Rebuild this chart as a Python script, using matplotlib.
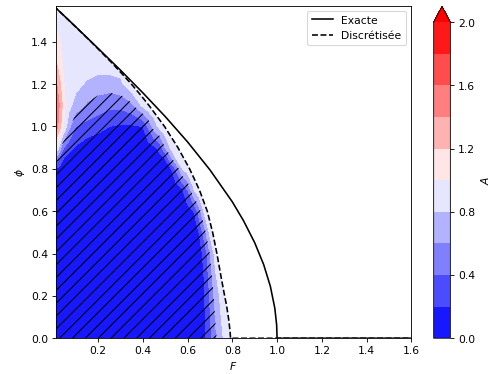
import numpy as np
import matplotlib
matplotlib.use('Agg')
import matplotlib.pyplot as plt
from matplotlib.patches import Polygon

# exact curve
F_exact = [0.0, 0.1, 0.2, 0.3, 0.4, 0.5, 0.6, 0.7, 0.8, 0.85, 0.9, 0.94, 0.97, 0.99, 0.998, 1.0, 1.6]
phi_exact = [1.571, 1.471, 1.369, 1.266, 1.159, 1.047, 0.927, 0.795, 0.644, 0.555, 0.451, 0.348, 0.245, 0.141, 0.063, 0.0, 0.0]
# discretised curve
F_disc = [0.0, 0.0706, 0.1685, 0.262, 0.306, 0.349, 0.389, 0.427, 0.497, 0.557, 0.609, 0.653, 0.688,
          0.712, 0.731, 0.748, 0.762, 0.775, 0.785, 0.79, 0.792, 1.6]
phi_disc = [1.571, 1.5, 1.4, 1.3, 1.25, 1.2, 1.15, 1.1, 1.0, 0.9, 0.8, 0.7, 0.6,
            0.5, 0.4, 0.3, 0.22, 0.15, 0.08, 0.03, 0.0, 0.0]

levels = [0.0, 0.2, 0.4, 0.6, 0.8, 1.0, 1.2, 1.4, 1.6, 1.8, 2.0]
cbar_ticks = [0.0, 0.4, 0.8, 1.2, 1.6, 2.0]
hatch_levels = [-1.0, 0.6]

# field A (in hundredths) on the (F, phi) grid
F_grid = [0.01, 0.02, 0.03, 0.04, 0.05, 0.07, 0.1, 0.15, 0.2, 0.25, 0.3, 0.35, 0.4, 0.425, 0.45, 0.475,
          0.5, 0.525, 0.55, 0.575, 0.6, 0.625, 0.65, 0.675, 0.7, 0.725, 0.75, 0.775, 0.8, 0.85]
phi_grid = [0.0, 0.2, 0.4, 0.5, 0.6, 0.7, 0.8, 0.85, 0.9, 1.0, 1.1, 1.2, 1.3, 1.4, 1.5, 1.5708]
A_pct = [
    [5, 5, 5, 5, 5, 5, 5, 5, 5, 5, 5, 5, 5, 5, 5, 5, 5, 5, 5, 5, 5, 5, 8, 17, 34, 56, 75, 88, 95, 95],
    [5, 5, 5, 5, 5, 5, 5, 5, 5, 5, 5, 5, 5, 5, 5, 5, 5, 5, 5, 5, 5, 5, 10, 18, 42, 68, 85, 95, 95, 95],
    [5, 5, 5, 5, 5, 5, 5, 5, 5, 5, 5, 5, 5, 5, 5, 5, 5, 5, 5, 5, 5, 5, 13, 24, 60, 88, 95, 95, 95, 95],
    [5, 5, 5, 5, 5, 5, 5, 5, 5, 5, 5, 5, 5, 5, 5, 5, 5, 5, 5, 5, 5, 11, 19, 51, 85, 95, 95, 95, 95, 95],
    [5, 5, 5, 5, 5, 5, 5, 5, 5, 5, 5, 5, 5, 5, 5, 5, 5, 5, 5, 5, 11, 18, 48, 84, 95, 95, 95, 95, 95, 95],
    [5, 5, 5, 5, 5, 5, 5, 5, 5, 5, 5, 5, 5, 5, 5, 5, 5, 5, 9, 17, 40, 77, 94, 95, 95, 95, 95, 95, 95, 95],
    [19, 16, 14, 11, 9, 6, 6, 6, 6, 6, 5, 5, 5, 5, 5, 5, 11, 18, 44, 79, 91, 95, 95, 95, 95, 95, 95, 95, 95, 95],
    [60, 45, 32, 24, 18, 12, 8, 6, 6, 6, 6, 6, 6, 6, 6, 13, 21, 55, 83, 92, 95, 95, 95, 95, 95, 95, 95, 95, 95, 95],
    [105, 88, 70, 48, 38, 28, 18, 8, 8, 8, 8, 8, 8, 11, 16, 27, 60, 83, 93, 95, 95, 95, 95, 95, 95, 95, 95, 95, 95, 95],
    [150, 140, 125, 110, 93, 65, 40, 33, 26, 20, 17, 17, 20, 43, 70, 86, 95, 95, 95, 95, 95, 95, 95, 95, 95, 95, 95, 95, 95, 95],
    [155, 148, 135, 120, 103, 86, 72, 57, 51, 45, 45, 55, 85, 95, 95, 95, 95, 95, 95, 95, 95, 95, 95, 95, 95, 95, 95, 95, 95, 95],
    [145, 135, 122, 108, 98, 93, 86, 77, 70, 70, 75, 95, 95, 95, 95, 95, 95, 95, 95, 95, 95, 95, 95, 95, 95, 95, 95, 95, 95, 95],
    [122, 115, 106, 100, 97, 94, 92, 92, 92, 92, 92, 92, 92, 92, 92, 92, 92, 92, 92, 92, 92, 92, 92, 92, 92, 92, 92, 92, 92, 92],
    [110, 104, 100, 97, 97, 97, 97, 96, 96, 96, 95, 95, 95, 95, 94, 94, 94, 94, 94, 94, 94, 93, 93, 93, 93, 93, 93, 92, 92, 92],
    [95, 95, 95, 95, 95, 95, 95, 94, 94, 94, 94, 94, 94, 94, 93, 93, 93, 93, 93, 93, 93, 93, 93, 93, 93, 92, 92, 92, 92, 92],
    [92, 92, 92, 92, 92, 92, 92, 92, 92, 92, 92, 92, 92, 92, 92, 92, 92, 92, 92, 92, 92, 92, 92, 92, 92, 92, 92, 92, 92, 92],
]
A = np.array(A_pct, dtype=float) / 100.0

fig = plt.figure(figsize=(493.4 / 77, 374.4 / 77), dpi=77)
ax = fig.add_axes([0.1126, 0.0955, 0.7211, 0.8885])
cax = fig.add_axes([0.8789, 0.0955, 0.0339, 0.8866])

clip_pts = list(zip(F_disc[:-1], phi_disc[:-1])) + [(-0.1, 0.0), (-0.1, 1.5708)]
clip = Polygon(clip_pts, closed=True, transform=ax.transData, facecolor='none', edgecolor='none')

cf = ax.contourf(F_grid, phi_grid, A, levels=levels, cmap='bwr', extend='max')
cf.set_clip_path(clip)
hf = ax.contourf(F_grid, phi_grid, A, levels=hatch_levels, colors='none', hatches=['//'])
hf.set_clip_path(clip)

ax.plot(F_exact, phi_exact, 'k-', label='Exacte')
ax.plot(F_disc, phi_disc, 'k--', label='Discrétisée')
ax.set_xlim(0.01, 1.6)
ax.set_ylim(0.0, 1.5708)
ax.set_xlabel('$F$')
ax.set_ylabel('$\\phi$')
ax.legend(loc='upper right')

cb = fig.colorbar(cf, cax=cax, ticks=cbar_ticks)
cb.set_label('$A$')

fig.savefig('out.png', dpi=77)
